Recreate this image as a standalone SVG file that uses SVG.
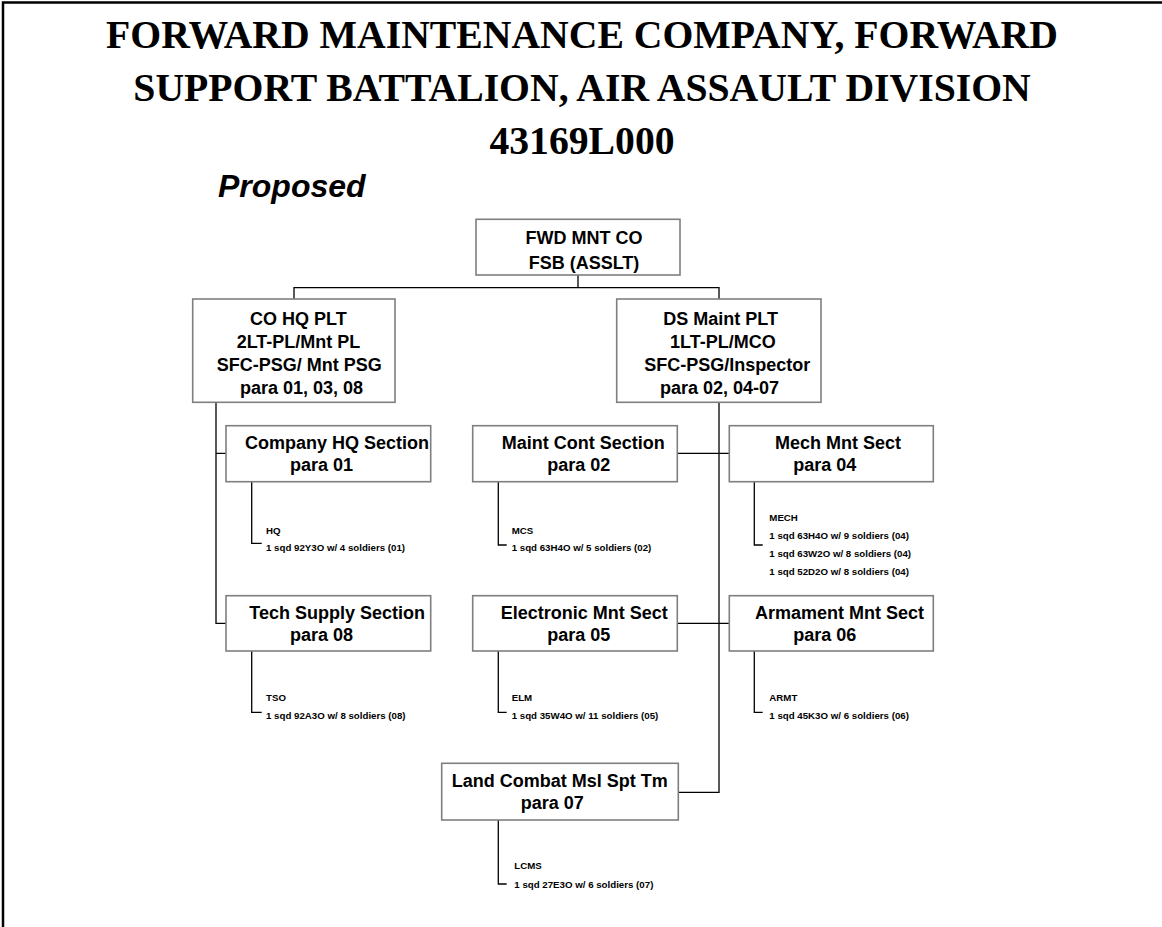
<svg xmlns="http://www.w3.org/2000/svg" width="1162" height="927" viewBox="0 0 1162 927">
  <style>
    .title { font-family: "Liberation Serif", "Times New Roman", serif; font-weight: bold; font-size: 39.7px; fill: #000; text-anchor: middle; }
    .sub { font-family: "Liberation Sans", Arial, sans-serif; font-weight: bold; font-style: italic; font-size: 32px; fill: #000; }
    .box { fill: #fff; stroke: #7f7f7f; stroke-width: 1.6; }
    .lbl { font-family: "Liberation Sans", Arial, sans-serif; font-weight: bold; font-size: 18px; fill: #000; }
    .mid { text-anchor: middle; }
    .sm { font-family: "Liberation Sans", Arial, sans-serif; font-weight: bold; font-size: 9.7px; fill: #000; }
    .wire { fill: none; stroke: #000; stroke-width: 1.3; }
    .frame { fill: none; stroke: #000; stroke-width: 2.5; }
  </style>

  <rect width="1162" height="927" fill="#fff"/>
  <path class="frame" d="M3,930 V2.5 H1165"/>

  <!-- heading -->
  <g id="heading">
    <text class="title" x="582" y="48">FORWARD MAINTENANCE COMPANY, FORWARD</text>
    <text class="title" x="582" y="101">SUPPORT BATTALION, AIR ASSAULT DIVISION</text>
    <text class="title" x="582" y="154">43169L000</text>
    <text class="sub" x="218" y="197">Proposed</text>
  </g>

  <!-- connectors -->
  <g id="connectors" class="wire">
    <path d="M578,275 V287.7 M294,299 V287.7 H719 V299"/>
    <path d="M216,402 V623.3 H226 M216,453.3 H226"/>
    <path d="M719,402 V792.3 H678.3 M677.3,453.3 H729.3 M677.3,623.3 H729.3"/>
    <!-- squad ticks -->
    <path d="M251.7,481.7 V543.3 H261.7"/>
    <path d="M498.3,481.7 V545 H506.7"/>
    <path d="M754.3,481.7 V545 H762.7"/>
    <path d="M251.7,651 V712.3 H261.7"/>
    <path d="M498.3,651 V712.3 H506.7"/>
    <path d="M754.3,651 V712.3 H762.7"/>
    <path d="M498.3,820 V884 H506.7"/>
  </g>

  <g id="fwd-mnt-co">
    <rect class="box" x="476" y="219.3" width="204" height="55.7"/>
    <text class="lbl mid" x="584" y="243.5">FWD MNT CO</text>
    <text class="lbl mid" x="584" y="268.5">FSB (ASSLT)</text>
  </g>

  <g id="co-hq-plt">
    <rect class="box" x="192.7" y="299" width="202.3" height="103.3"/>
    <text class="lbl" x="250" y="324.5">CO HQ PLT</text>
    <text class="lbl" x="236.7" y="347.5">2LT-PL/Mnt PL</text>
    <text class="lbl" x="216.7" y="370.5">SFC-PSG/ Mnt PSG</text>
    <text class="lbl" x="240" y="393.5">para 01, 03, 08</text>
  </g>

  <g id="ds-maint-plt">
    <rect class="box" x="616.7" y="299" width="204.3" height="103.3"/>
    <text class="lbl" x="663.3" y="324.5">DS Maint PLT</text>
    <text class="lbl" x="670" y="347.5">1LT-PL/MCO</text>
    <text class="lbl" x="644.3" y="370.5">SFC-PSG/Inspector</text>
    <text class="lbl" x="660" y="393.5">para 02, 04-07</text>
  </g>

  <g id="company-hq-section">
    <rect class="box" x="226" y="425.7" width="204.7" height="56"/>
    <text class="lbl" x="245" y="449.4">Company HQ Section</text>
    <text class="lbl" x="290" y="471">para 01</text>
    <text class="sm" transform="translate(266,534) scale(1,0.85)">HQ</text>
    <text class="sm" transform="translate(266,550.5) scale(1,0.85)">1 sqd 92Y3O w/ 4 soldiers (01)</text>
  </g>

  <g id="maint-cont-section">
    <rect class="box" x="472.7" y="425.7" width="204.6" height="56"/>
    <text class="lbl" x="501.7" y="449.4">Maint Cont Section</text>
    <text class="lbl" x="547.3" y="471">para 02</text>
    <text class="sm" transform="translate(511.7,534) scale(1,0.85)">MCS</text>
    <text class="sm" transform="translate(511.7,550.5) scale(1,0.85)">1 sqd 63H4O w/ 5 soldiers (02)</text>
  </g>

  <g id="mech-mnt-sect">
    <rect class="box" x="729.3" y="425.7" width="204" height="56"/>
    <text class="lbl" x="775" y="449.4">Mech Mnt Sect</text>
    <text class="lbl" x="793.3" y="471">para 04</text>
    <text class="sm" transform="translate(769.3,521) scale(1,0.85)">MECH</text>
    <text class="sm" transform="translate(769.3,539) scale(1,0.85)">1 sqd 63H4O w/ 9 soldiers (04)</text>
    <text class="sm" transform="translate(769.3,557) scale(1,0.85)">1 sqd 63W2O w/ 8 soldiers (04)</text>
    <text class="sm" transform="translate(769.3,574.5) scale(1,0.85)">1 sqd 52D2O w/ 8 soldiers (04)</text>
  </g>

  <g id="tech-supply-section">
    <rect class="box" x="226" y="595.7" width="204.7" height="55.3"/>
    <text class="lbl" x="249.3" y="619.4">Tech Supply Section</text>
    <text class="lbl" x="290" y="641">para 08</text>
    <text class="sm" transform="translate(266,701) scale(1,0.85)">TSO</text>
    <text class="sm" transform="translate(266,718.5) scale(1,0.85)">1 sqd 92A3O w/ 8 soldiers (08)</text>
  </g>

  <g id="electronic-mnt-sect">
    <rect class="box" x="472.7" y="595.7" width="204.6" height="55.3"/>
    <text class="lbl" x="500.7" y="619.4">Electronic Mnt Sect</text>
    <text class="lbl" x="547.3" y="641">para 05</text>
    <text class="sm" transform="translate(511.7,701) scale(1,0.85)">ELM</text>
    <text class="sm" transform="translate(511.7,718.5) scale(1,0.85)">1 sqd 35W4O w/ 11 soldiers (05)</text>
  </g>

  <g id="armament-mnt-sect">
    <rect class="box" x="729.3" y="595.7" width="204" height="55.3"/>
    <text class="lbl" x="755" y="619.4">Armament Mnt Sect</text>
    <text class="lbl" x="793.3" y="641">para 06</text>
    <text class="sm" transform="translate(769.3,701) scale(1,0.85)">ARMT</text>
    <text class="sm" transform="translate(769.3,718.5) scale(1,0.85)">1 sqd 45K3O w/ 6 soldiers (06)</text>
  </g>

  <g id="land-combat-msl-spt-tm">
    <rect class="box" x="441.7" y="763.3" width="236.6" height="56.7"/>
    <text class="lbl" x="451.7" y="787">Land Combat Msl Spt Tm</text>
    <text class="lbl" x="520.7" y="808.6">para 07</text>
    <text class="sm" transform="translate(514.3,868.5) scale(1,0.85)">LCMS</text>
    <text class="sm" transform="translate(514.3,887.5) scale(1,0.85)">1 sqd 27E3O w/ 6 soldiers (07)</text>
  </g>
</svg>
